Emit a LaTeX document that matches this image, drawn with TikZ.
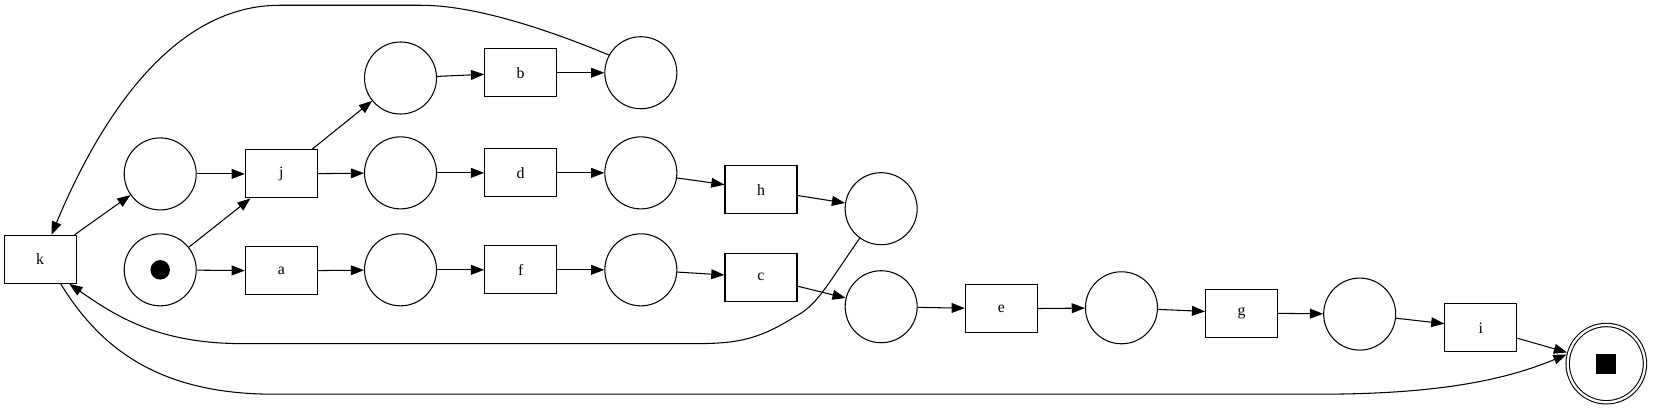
\documentclass[tikz,border=0pt]{standalone}
\usepackage{fontspec}
\setmainfont{Liberation Serif}
\usetikzlibrary{arrows.meta,positioning}

\begin{document}
\begin{tikzpicture}[x=0.02108cm, y=-0.02108cm, line width=0.6pt,
  place/.style={circle, draw, minimum size=1.44cm, inner sep=0pt},
  trans/.style={rectangle, draw, minimum width=1.44cm, minimum height=0.96cm, inner sep=0pt, font=\fontsize{9}{10}\selectfont},
  arc/.style={-{Triangle[length=7.5pt,width=5.6pt]}}]
  \useasboundingbox (0,0) rectangle (1568.3,390);

  % transitions
  \node[trans] (k) at (38,246) {k};
  \node[trans] (j) at (267,165) {j};
  \node[trans] (a) at (267,257) {a};
  \node[trans] (b) at (494,69) {b};
  \node[trans] (d) at (494,164) {d};
  \node[trans] (f) at (494,256) {f};
  \node[trans] (h) at (722,180) {h};
  \node[trans] (c) at (722,263) {c};
  \node[trans] (e) at (950,293) {e};
  \node[trans] (g) at (1178,297) {g};
  \node[trans] (i) at (1405,311) {i};

  % places
  \node[place] (p1) at (152,165) {};
  \node[place] (p0) at (152,256) {};
  \node[circle, fill, minimum size=0.39cm, inner sep=0pt] (token) at (p0) {};
  \node[place] (pbi) at (380,74) {};
  \node[place] (pdi) at (380,164) {};
  \node[place] (pfi) at (380,256) {};
  \node[place] (pbo) at (608,69) {};
  \node[place] (pdo) at (608,164) {};
  \node[place] (pfo) at (608,256) {};
  \node[place] (pho) at (836,198) {};
  \node[place] (pco) at (836,291) {};
  \node[place] (peo) at (1064,292) {};
  \node[place] (pgo) at (1290,298) {};
  \node[place, double, double distance=1.3pt, minimum size=1.545cm, outer sep=1.25pt] (fin) at (1524,345) {};
  \node[fill, minimum size=0.4cm, inner sep=0pt] (stop) at (fin) {};

  \draw[arc] (k) -- (p1);
  \draw[arc] (p1) -- (j);
  \draw[arc] (p0) -- (j);
  \draw[arc] (p0) -- (a);
  \draw[arc] (j) -- (pbi);
  \draw[arc] (j) -- (pdi);
  \draw[arc] (a) -- (pfi);
  \draw[arc] (pbi) -- (b);
  \draw[arc] (pdi) -- (d);
  \draw[arc] (pfi) -- (f);
  \draw[arc] (b) -- (pbo);
  \draw[arc] (d) -- (pdo);
  \draw[arc] (f) -- (pfo);
  \draw[arc] (pdo) -- (h);
  \draw[arc] (pfo) -- (c);
  \draw[arc] (h) -- (pho);
  \draw[arc] (c) -- (pco);
  \draw[arc] (pco) -- (e);
  \draw[arc] (e) -- (peo);
  \draw[arc] (peo) -- (g);
  \draw[arc] (g) -- (pgo);
  \draw[arc] (pgo) -- (i);
  \draw[arc] (i) -- (fin);

  % loops back to k, and k to the end
  \draw[arc] (pbo.151) .. controls (520,28) and (450,5) .. (400,5) -- (265,5) .. controls (170,5) and (100,100) .. (k.65);
  \draw[arc] (pho.234) .. controls (785,270) and (775,290) .. (755,300) .. controls (720,322) and (700,326) .. (660,326) -- (230,326) .. controls (150,326) and (110,300) .. (k.-40);
  \draw[arc] (k.-50) .. controls (95,330) and (150,374) .. (260,374) -- (1250,374) .. controls (1350,374) and (1420,364) .. (fin.167);
\end{tikzpicture}
\end{document}
